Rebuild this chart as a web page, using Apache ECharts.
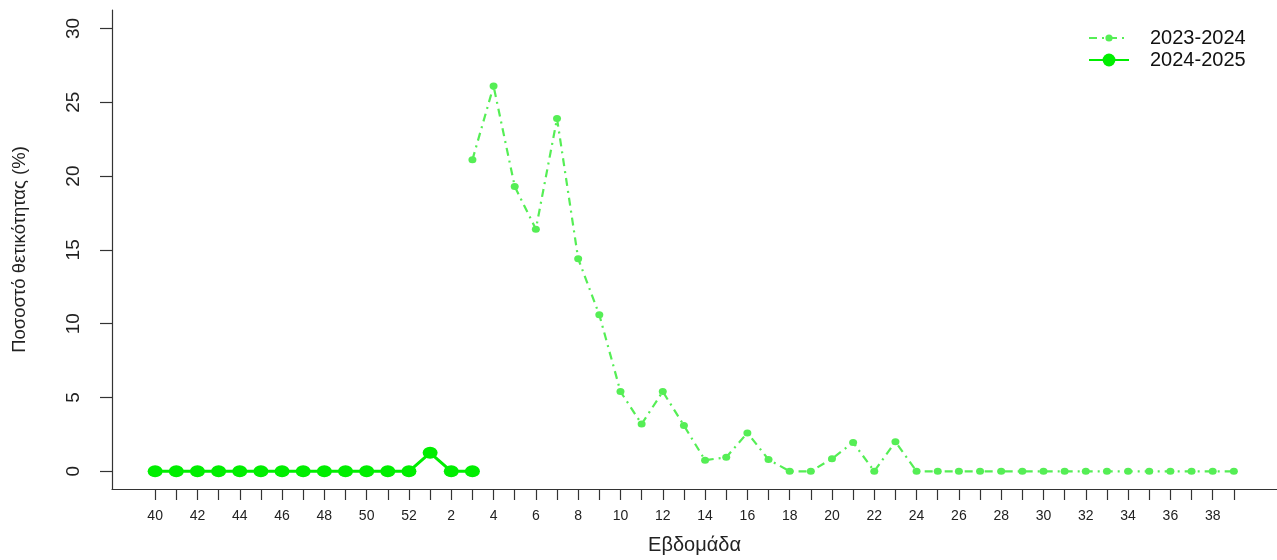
<!DOCTYPE html>
<html>
<head>
<meta charset="utf-8">
<script src="https://cdn.jsdelivr.net/npm/echarts@6/dist/echarts.min.js"></script>
<style>html,body{margin:0;padding:0;background:#fff}#c{width:1277px;height:560px}</style>
</head>
<body>
<div id="c"></div>
<script>
// Week labels (season order: week 40 to week 39)
const weekLabels = ['40','41','42','43','44','45','46','47','48','49','50','51','52',
  '1','2','3','4','5','6','7','8','9','10','11','12','13','14','15','16','17','18','19','20',
  '21','22','23','24','25','26','27','28','29','30','31','32','33','34','35','36','37','38','39'];
// 2023-2024 positivity (%) – starts at week 3
const season2324 = [null,null,null,null,null,null,null,null,null,null,null,null,null,null,null,
  21.1,26.1,19.3,16.4,23.9,14.4,10.6,5.4,3.2,5.4,3.1,0.75,0.95,2.6,0.8,0,0,0.85,1.95,0,2.0,
  0,0,0,0,0,0,0,0,0,0,0,0,0,0,0,0];
// 2024-2025 positivity (%) – weeks 40 to 3
const season2425 = [0,0,0,0,0,0,0,0,0,0,0,0,0,1.25,0,0];
const yTicks = [0,5,10,15,20,25,30];
const seriesNames = ['2023-2024','2024-2025'];

const toPairs = arr => arr.map((v,i)=>[i,v]);
const xTickVals = weekLabels.map((_,i)=>i);
const xLabelVals = xTickVals.filter(i=>i%2===0);
const FONT = 'Liberation Sans, Arial, sans-serif';
const C1 = '#55ee55', C2 = '#00ee00';

const legendText = {fontFamily:FONT,fontSize:20,color:'#111',padding:[0,0,0,16]};
const chart = echarts.init(document.getElementById('c'), null, {renderer:'canvas'});
chart.setOption({
  animation:false,
  backgroundColor:'#fff',
  grid:{left:112,right:0,top:10,bottom:69,containLabel:false},
  legend:[
    {left:1083, top:23, itemWidth:40, itemHeight:9, textStyle:legendText, data:[seriesNames[0]]},
    {left:1083, top:45, itemWidth:40, itemHeight:16, textStyle:legendText, data:[seriesNames[1]]}
  ],
  xAxis:{
    type:'value', min:-2.04, max:53.04,
    splitLine:{show:false},
    axisLine:{show:true,onZero:false,lineStyle:{color:'#333',width:1.2}},
    axisTick:{show:true,customValues:xTickVals,length:11,lineStyle:{color:'#333',width:1.2}},
    axisLabel:{customValues:xLabelVals,formatter:v=>weekLabels[Math.round(v)],
      fontFamily:FONT,fontSize:14,color:'#222',margin:20},
    name:'Εβδομάδα', nameLocation:'middle', nameGap:46,
    nameTextStyle:{fontFamily:FONT,fontSize:20,color:'#222'}
  },
  yAxis:{
    type:'value', min:-1.2, max:31.25,
    splitLine:{show:false},
    axisLine:{show:true,onZero:false,lineStyle:{color:'#333',width:1.2}},
    axisTick:{show:true,customValues:yTicks,length:12,lineStyle:{color:'#333',width:1.2}},
    axisLabel:{customValues:yTicks,rotate:90,fontFamily:FONT,fontSize:19,color:'#222',margin:29},
    name:'Ποσοστό θετικότητας (%)', nameLocation:'middle', nameGap:83, nameRotate:90,
    nameTextStyle:{fontFamily:FONT,fontSize:18.5,color:'#222'}
  },
  series:[
    {
      name:seriesNames[0], type:'line', data:toPairs(season2324), connectNulls:false,
      symbol:'circle', symbolSize:[8,7], color:C1,
      lineStyle:{color:C1,width:2.2,type:[8,5,2,5]},
      itemStyle:{color:C1}
    },
    {
      name:seriesNames[1], type:'line', data:toPairs(season2425),
      symbol:'circle', symbolSize:[15,12], color:C2,
      lineStyle:{color:C2,width:3},
      itemStyle:{color:C2}
    }
  ]
});
</script>
</body>
</html>
